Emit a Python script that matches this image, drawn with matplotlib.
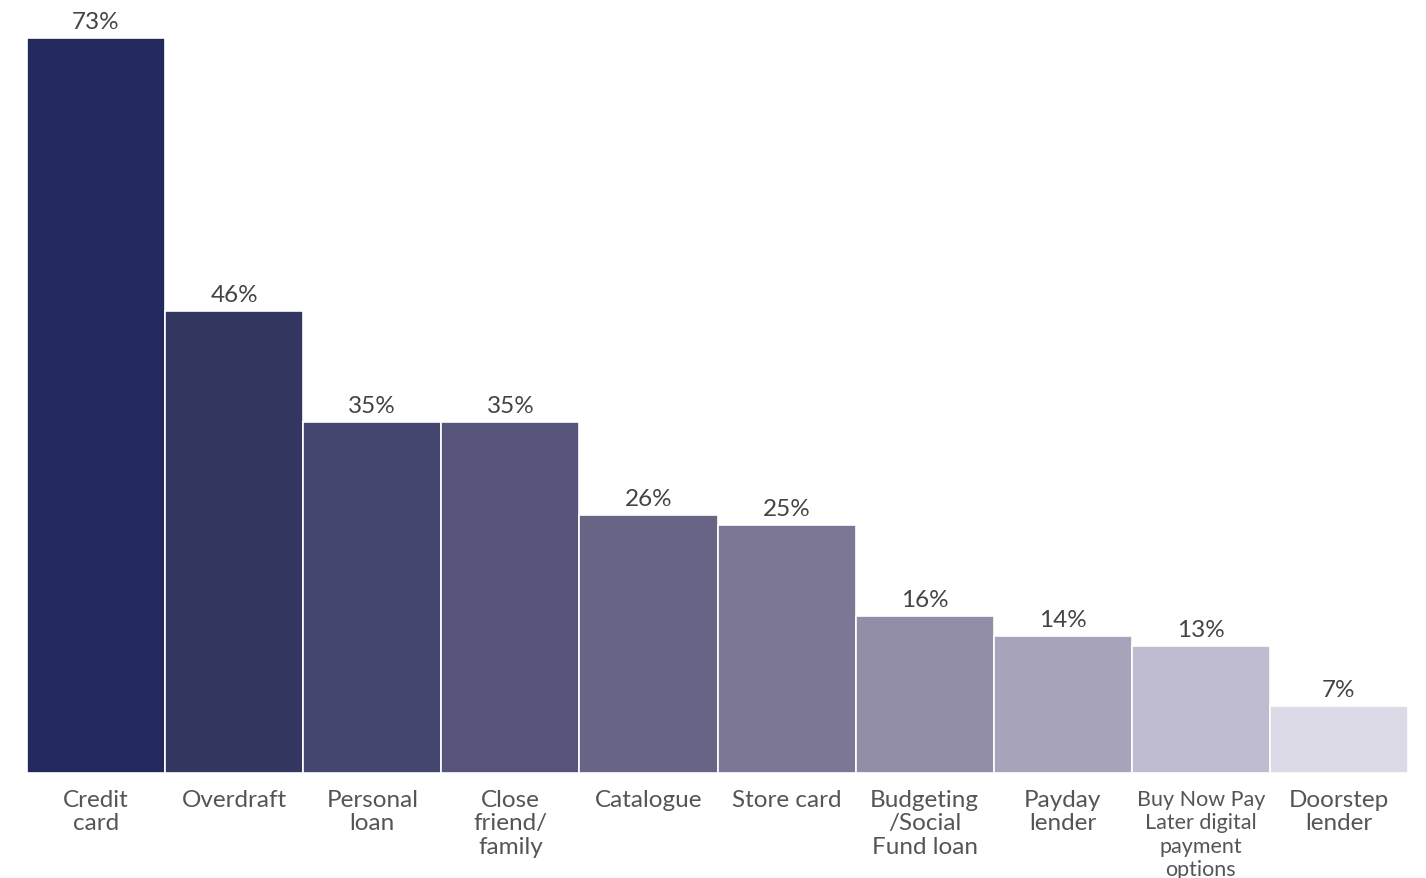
import matplotlib.pyplot as plt

categories = ['Credit\ncard', 'Overdraft', 'Personal\nloan', 'Close\nfriend/\nfamily',
              'Catalogue', 'Store card', 'Budgeting\n/Social\nFund loan', 'Payday\nlender',
              'Buy Now Pay\nLater digital\npayment\noptions', 'Doorstep\nlender']
values = [72.9, 45.8, 34.8, 34.8, 25.6, 24.6, 15.6, 13.6, 12.6, 6.6]
colors = ['#23295c', '#33365f', '#45466f', '#56547b', '#686486',
          '#7b7794', '#928ea8', '#a7a3ba', '#bfbccf', '#dcdae7']

plt.rcParams['font.family'] = ['Lato', 'DejaVu Sans']

fig = plt.figure(figsize=(14.26, 8.79), dpi=100)
ax = fig.add_axes([27 / 1426, 1 - 774 / 879, 1381 / 1426, 774 / 879])

x = range(len(categories))
ax.bar(x, values, width=1.0, color=colors, edgecolor='white', linewidth=1.2)
ax.set_xlim(-0.5, len(categories) - 0.5)
ax.set_ylim(0, 774 / 10.08)

for i, v in enumerate(values):
    ax.text(i, v + 0.6, f'{round(v)}%', ha='center', va='bottom',
            fontsize=17.5, color='#444444')

for i, lab in enumerate(categories):
    small = lab.count('\n') >= 3
    ax.text(i, -1.6, lab, ha='center', va='top', fontsize=15.5 if small else 17.5,
            color='#555555', linespacing=1.2 if small else 1.13, clip_on=False)

ax.axis('off')
fig.savefig('out.png', dpi=100)
